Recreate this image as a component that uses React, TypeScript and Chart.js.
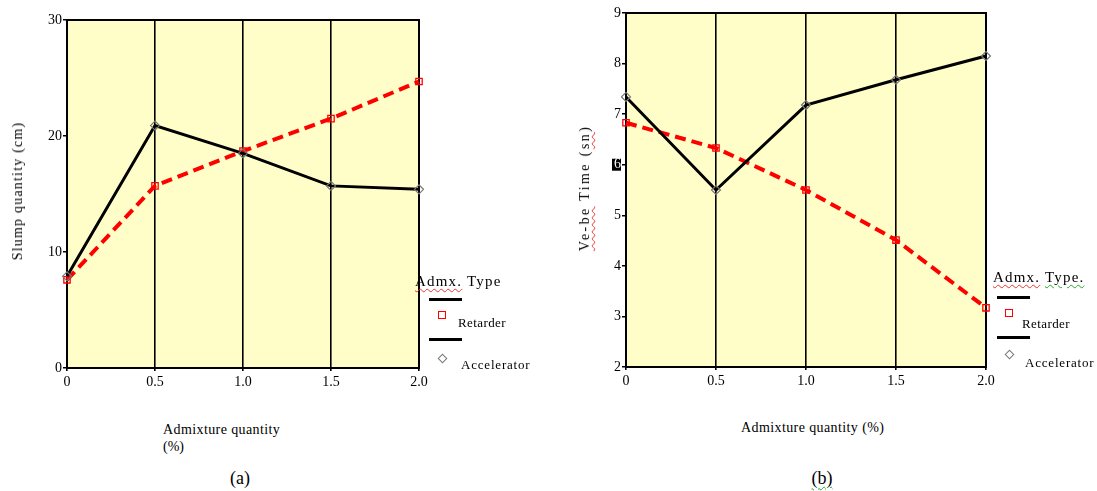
import React, { useEffect, useRef } from "react";
import { Chart, registerables } from "chart.js";

Chart.register(...registerables);

const xLabels = ["0", "0.5", "1.0", "1.5", "2.0"];
const slumpRetarder = [7.6, 15.7, 18.7, 21.5, 24.7];
const slumpAccelerator = [7.9, 20.9, 18.5, 15.7, 15.4];
const vebeRetarder = [6.83, 6.33, 5.5, 4.51, 3.17];
const vebeAccelerator = [7.34, 5.5, 7.18, 7.68, 8.15];

const FONT = "'Liberation Serif', 'Times New Roman', serif";

const bgPlugin = {
  id: "bgPlugin",
  beforeDraw(chart: any) {
    const { ctx, chartArea: a } = chart;
    ctx.save();
    ctx.fillStyle = "#FFFDC8";
    ctx.fillRect(a.left, a.top, a.right - a.left, a.bottom - a.top);
    ctx.restore();
  },
  beforeDatasetsDraw(chart: any) {
    const { ctx, chartArea: a } = chart;
    ctx.save();
    ctx.strokeStyle = "#000";
    ctx.lineWidth = 2;
    ctx.strokeRect(a.left, a.top, a.right - a.left, a.bottom - a.top);
    ctx.restore();
  },
};

const highlightSix = {
  id: "highlightSix",
  afterDraw(chart: any) {
    const y = chart.scales.y;
    const py = y.getPixelForValue(6);
    const ctx = chart.ctx;
    ctx.save();
    ctx.fillStyle = "#000";
    ctx.fillRect(y.right - 14, py - 6, 9, 12);
    ctx.fillStyle = "#fff";
    ctx.font = `14px ${FONT}`;
    ctx.textAlign = "right";
    ctx.textBaseline = "middle";
    ctx.fillText("6", y.right - 5, py);
    ctx.restore();
  },
};

function makeConfig(
  ret: number[],
  acc: number[],
  yMin: number,
  yMax: number,
  step: number,
  pad: { left: number; top: number; right: number; bottom: number },
  yWidth: number,
  xHeight: number,
  hideSix: boolean
): any {
  return {
    type: "line",
    data: {
      labels: xLabels,
      datasets: [
        {
          label: "Accelerator",
          data: acc,
          borderColor: "#000",
          borderWidth: 3,
          pointStyle: "rectRot",
          pointRadius: 4.5,
          pointBorderColor: "#777",
          pointBackgroundColor: "rgba(0,0,0,0)",
          pointBorderWidth: 1.2,
          tension: 0,
        },
        {
          label: "Retarder",
          data: ret,
          borderColor: "#FF0000",
          borderWidth: 4,
          borderDash: [11, 6],
          pointStyle: "rect",
          pointRadius: 4.5,
          pointBorderColor: "#FF0000",
          pointBackgroundColor: "rgba(0,0,0,0)",
          pointBorderWidth: 1.3,
          tension: 0,
        },
      ],
    },
    options: {
      animation: false,
      responsive: false,
      maintainAspectRatio: false,
      layout: { padding: pad },
      plugins: { legend: { display: false }, tooltip: { enabled: false } },
      scales: {
        x: {
          type: "category",
          offset: false,
          grid: {
            display: true,
            color: "#000",
            lineWidth: 1.6,
            drawTicks: true,
            tickLength: 3,
            tickColor: "#000",
          },
          border: { display: true, color: "#000", width: 2 },
          ticks: {
            color: "#000",
            font: { family: FONT, size: 14 },
            padding: 3,
            maxRotation: 0,
            autoSkip: false,
          },
          afterFit(s: any) {
            s.height = xHeight;
          },
        },
        y: {
          type: "linear",
          min: yMin,
          max: yMax,
          grid: {
            display: true,
            drawOnChartArea: false,
            drawTicks: true,
            tickLength: 4,
            tickColor: "#000",
            lineWidth: 1.5,
          },
          border: { display: true, color: "#000", width: 2 },
          ticks: {
            stepSize: step,
            color: (c: any) => (hideSix && c.tick && c.tick.value === 6 ? "rgba(0,0,0,0)" : "#000"),
            font: { family: FONT, size: 14 },
            padding: 1,
          },
          afterFit(s: any) {
            s.width = yWidth;
          },
        },
      },
    },
    plugins: hideSix ? [bgPlugin, highlightSix] : [bgPlugin],
  };
}

function ChartCanvas(props: {
  left: number;
  width: number;
  height: number;
  cfg: any;
}) {
  const ref = useRef<HTMLCanvasElement>(null);
  useEffect(() => {
    if (!ref.current) return;
    const ch = new Chart(ref.current, props.cfg);
    return () => ch.destroy();
  }, []);
  return (
    <canvas
      ref={ref}
      width={props.width}
      height={props.height}
      style={{
        position: "absolute",
        left: props.left,
        top: 0,
        width: props.width,
        height: props.height,
      }}
    />
  );
}

const txt = (extra: React.CSSProperties): React.CSSProperties => ({
  position: "absolute",
  fontFamily: FONT,
  fontSize: 14,
  lineHeight: "16px",
  color: "#000",
  whiteSpace: "nowrap",
  ...extra,
});

const redWave: React.CSSProperties = {
  textDecoration: "underline wavy #e33",
  textDecorationThickness: "1px",
  textUnderlineOffset: "2px",
};
const greenWave: React.CSSProperties = {
  textDecoration: "underline wavy #2a2",
  textDecorationThickness: "1px",
  textUnderlineOffset: "2px",
};

function Legend(p: {
  tx: number;
  ty: number;
  lx: number;
  l1: number;
  mx: number;
  my1: number;
  rx: number;
  ry: number;
  l2: number;
  my2: number;
  ax: number;
  ay: number;
  dotType: boolean;
}) {
  return (
    <>
      <div style={txt({ left: p.tx, top: p.ty - 8, fontSize: 15, letterSpacing: "1.2px" })}>
        <span style={redWave}>Admx.</span> <span style={p.dotType ? greenWave : {}}>{p.dotType ? "Type." : "Type"}</span>
      </div>
      <div style={{ position: "absolute", left: p.lx, top: p.l1 - 1.5, width: 33, height: 3, background: "#000" }} />
      <div
        style={{
          position: "absolute",
          left: p.mx - 4,
          top: p.my1 - 4,
          width: 6,
          height: 6,
          border: "1.5px solid #f00",
        }}
      />
      <div style={txt({ left: p.rx, top: p.ry - 8, fontSize: 13, letterSpacing: "0.4px" })}>Retarder</div>
      <div style={{ position: "absolute", left: p.lx, top: p.l2 - 1.5, width: 33, height: 3, background: "#000" }} />
      <div
        style={{
          position: "absolute",
          left: p.mx - 3.5,
          top: p.my2 - 3.5,
          width: 5,
          height: 5,
          border: "1.2px solid #777",
          transform: "rotate(45deg)",
        }}
      />
      <div style={txt({ left: p.ax, top: p.ay - 8, fontSize: 13, letterSpacing: "0.8px" })}>Accelerator</div>
    </>
  );
}

export default function App() {
  const cfgA = makeConfig(
    slumpRetarder,
    slumpAccelerator,
    0,
    30,
    10,
    { left: 0, top: 20, right: 21, bottom: 0 },
    67,
    32,
    false
  );
  const cfgB = makeConfig(
    vebeRetarder,
    vebeAccelerator,
    2,
    9,
    1,
    { left: 0, top: 13, right: 111, bottom: 0 },
    66,
    33,
    true
  );
  return (
    <div
      style={{
        position: "absolute",
        left: 0,
        top: 0,
        width: 1097,
        height: 491,
        background: "#fff",
        overflow: "hidden",
      }}
    >
      <ChartCanvas left={0} width={440} height={400} cfg={cfgA} />
      <ChartCanvas left={560} width={537} height={400} cfg={cfgB} />

      {/* Chart (a) texts */}
      <div
        style={txt({
          left: 18,
          top: 191,
          transform: "translate(-50%, -50%) rotate(-90deg)",
          letterSpacing: "1.2px",
        })}
      >
        Slump quantity (cm)
      </div>
      <div style={txt({ left: 163, top: 422, letterSpacing: "0.4px" })}>Admixture quantity</div>
      <div style={txt({ left: 163, top: 439 })}>(%)</div>
      <div style={txt({ left: 240, top: 478, fontSize: 18, lineHeight: "20px", transform: "translate(-50%, -50%)" })}>(a)</div>
      <Legend
        tx={415}
        ty={281}
        lx={429}
        l1={299}
        mx={442}
        my1={315}
        rx={458}
        ry={323}
        l2={339}
        my2={358}
        ax={461}
        ay={365}
        dotType={false}
      />

      {/* Chart (b) texts */}
      <div
        style={txt({
          left: 585,
          top: 188,
          transform: "translate(-50%, -50%) rotate(-90deg)",
          letterSpacing: "2.4px",
        })}
      >
        <span style={redWave}>Ve-be</span> Time (<span style={redWave}>sn</span>)
      </div>
      <div style={txt({ left: 741, top: 420, letterSpacing: "0.4px" })}>Admixture quantity (%)</div>
      <div style={txt({ left: 822, top: 478, fontSize: 18, lineHeight: "20px", transform: "translate(-50%, -50%)" })}>
        <span style={greenWave}>(b)</span>
      </div>
      <Legend
        tx={993}
        ty={277}
        lx={997}
        l1={297}
        mx={1009}
        my1={313}
        rx={1022}
        ry={324}
        l2={337}
        my2={354}
        ax={1025}
        ay={363}
        dotType={true}
      />
    </div>
  );
}
